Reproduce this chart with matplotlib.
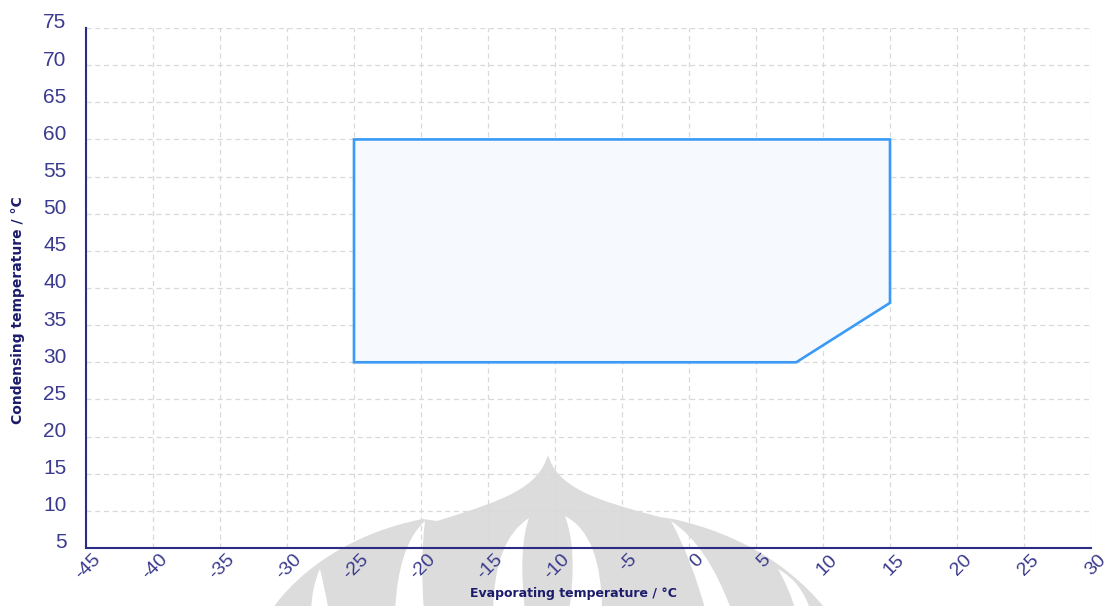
import numpy as np
import matplotlib
matplotlib.use("Agg")
import matplotlib.pyplot as plt
import matplotlib.transforms as mtransforms
from matplotlib.path import Path
from matplotlib.patches import PathPatch, Polygon

plt.rcParams["axes.unicode_minus"] = False

# operating envelope (evaporating temp, condensing temp), °C
evap = [-25, -25, 15, 15, 8]
cond = [30, 60, 60, 38, 30]

x_ticks = list(range(-45, 31, 5))
y_ticks = list(range(5, 76, 5))

navy = "#2c2c84"
label_navy = "#1c1c6c"
tick_color = "#3a3a8e"
tick_font = ["Liberation Sans Narrow", "Liberation Sans", "DejaVu Sans"]

W, H = 1110, 606
fig = plt.figure(figsize=(W / 100, H / 100), dpi=100)
fig.patch.set_facecolor("white")

# background layer in pixel units for the faint logo
bg = fig.add_axes([0, 0, 1, 1], zorder=-1)
bg.set_xlim(0, W)
bg.set_ylim(H, 0)
bg.axis("off")
gray = "#dcdcdc"

M, C3, C4, L, CL = Path.MOVETO, Path.CURVE3, Path.CURVE4, Path.LINETO, Path.CLOSEPOLY

# outer outline of the logo: side crescents plus the onion dome
outline = [(270, 612),
           (300, 568), (355, 532), (423, 519),
           (437, 521),
           (505, 500), (538, 488), (548, 455),
           (558, 488), (595, 500), (660, 517),
           (673, 519),
           (745, 535), (795, 570), (828, 612),
           (270, 612)]
codes = [M, C4, C4, C4, L, C4, C4, C4, C4, C4, C4, L, C4, C4, C4, CL]
bg.add_patch(PathPatch(Path(outline, codes), facecolor=gray, edgecolor="none"))


def sliver(apex, ctrl_l, bot_l, bot_r, ctrl_r):
    verts = [apex, ctrl_l, bot_l, bot_r, ctrl_r, apex, apex]
    codes = [M, C3, C3, L, C3, C3, CL]
    bg.add_patch(PathPatch(Path(verts, codes), facecolor="white", edgecolor="none"))


# white slivers cut into the logo
sliver((320, 569), (312, 585), (311, 612), (329, 612), (324, 585))
sliver((425, 521), (398, 545), (395, 612), (424, 612), (420, 560))
sliver((529, 518), (494, 540), (493, 612), (525, 612), (518, 548))
sliver((565, 516), (602, 535), (602, 612), (569, 612), (578, 550))
sliver((671, 521), (708, 545), (732, 612), (706, 612), (692, 560))
sliver((778, 569), (802, 582), (811, 612), (796, 612), (790, 590))

ax = fig.add_axes([86 / W, (H - 548) / H, 1005 / W, 520 / H])
ax.set_facecolor("none")

ax.add_patch(Polygon(np.column_stack([evap, cond]), closed=True,
                     facecolor="#f6fafe", edgecolor="#3a9af5", lw=1.9,
                     joinstyle="miter", zorder=3))

ax.set_xlim(-45, 30)
ax.set_ylim(5, 75)
ax.set_xticks(x_ticks)
ax.set_yticks(y_ticks)
ax.grid(True, color="#d9d9d9", lw=0.9, linestyle=(0, (4, 3)), zorder=0)

for s in ["top", "right"]:
    ax.spines[s].set_visible(False)
for s in ["left", "bottom"]:
    ax.spines[s].set_color(navy)
    ax.spines[s].set_linewidth(1.5)
    ax.spines[s].set_zorder(4)

ax.tick_params(axis="both", length=0, colors=tick_color)
ax.tick_params(axis="y", pad=14, labelsize=15)
ax.tick_params(axis="x", pad=6.5, labelsize=14)
for lab in ax.get_yticklabels():
    lab.set_fontfamily(tick_font)
    lab.set_transform(lab.get_transform() +
                      mtransforms.ScaledTranslation(0, 0.07, fig.dpi_scale_trans))
for lab in ax.get_xticklabels():
    lab.set_fontfamily(tick_font)
    lab.set_rotation(45)
    lab.set_rotation_mode("anchor")
    lab.set_horizontalalignment("right")
    lab.set_verticalalignment("center")
    lab.set_transform(lab.get_transform() +
                      mtransforms.ScaledTranslation(0.12, 0, fig.dpi_scale_trans))

fig.text(573 / W, 1 - 594 / H, "Evaporating temperature / °C", ha="center",
         va="center", color=label_navy, fontsize=9, fontweight="bold")
fig.text(18 / W, 1 - 310 / H, "Condensing temperature / °C", ha="center",
         va="center", rotation=90, color=label_navy, fontsize=10, fontweight="bold")

fig.savefig("out.png", dpi=100)
